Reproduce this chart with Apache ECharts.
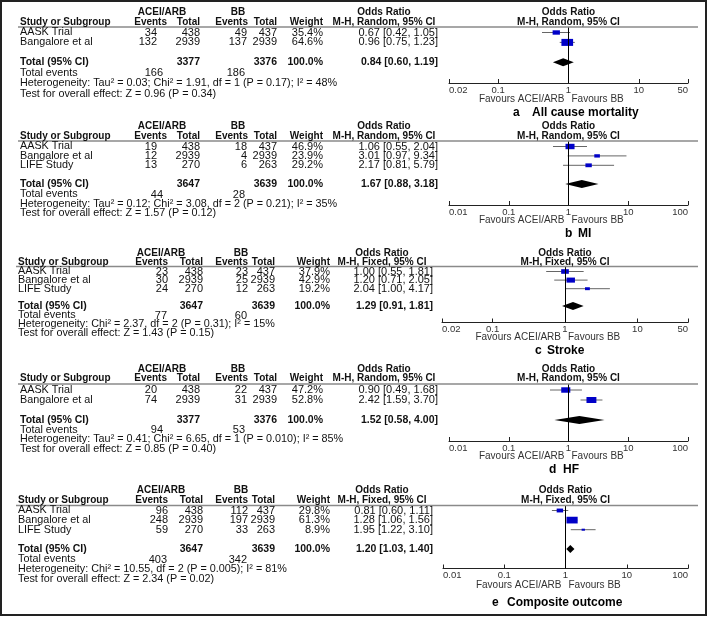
<!DOCTYPE html>
<html>
<head>
<meta charset="utf-8">
<script src="https://cdn.jsdelivr.net/npm/echarts@6/dist/echarts.min.js"></script>
<style>
html,body{margin:0;padding:0;background:#fff;}
#main{width:709px;height:618px;}
</style>
</head>
<body>
<div id="main"></div>
<script>
// ---------------- DATA ----------------
const captionLetters = ['a', 'b', 'c', 'd', 'e'];
const captionTitles = ['All cause mortality', 'MI', 'Stroke', 'HF', 'Composite outcome'];
const methods = ['Random', 'Random', 'Fixed', 'Random', 'Fixed'];

const studiesA = ['AASK Trial', 'Bangalore et al'];
const acEventsA = [34, 132];
const acTotalA = [438, 2939];
const bbEventsA = [49, 137];
const bbTotalA = [437, 2939];
const weightA = [35.4, 64.6];
const orA = [0.67, 0.96];
const loA = [0.42, 0.75];
const hiA = [1.05, 1.23];

const studiesB = ['AASK Trial', 'Bangalore et al', 'LIFE Study'];
const acEventsB = [19, 12, 13];
const acTotalB = [438, 2939, 270];
const bbEventsB = [18, 4, 6];
const bbTotalB = [437, 2939, 263];
const weightB = [46.9, 23.9, 29.2];
const orB = [1.06, 3.01, 2.17];
const loB = [0.55, 0.97, 0.81];
const hiB = [2.04, 9.34, 5.79];

const studiesC = ['AASK Trial', 'Bangalore et al', 'LIFE Study'];
const acEventsC = [23, 30, 24];
const acTotalC = [438, 2939, 270];
const bbEventsC = [23, 25, 12];
const bbTotalC = [437, 2939, 263];
const weightC = [37.9, 42.9, 19.2];
const orC = [1.00, 1.20, 2.04];
const loC = [0.55, 0.71, 1.00];
const hiC = [1.81, 2.05, 4.17];

const studiesD = ['AASK Trial', 'Bangalore et al'];
const acEventsD = [20, 74];
const acTotalD = [438, 2939];
const bbEventsD = [22, 31];
const bbTotalD = [437, 2939];
const weightD = [47.2, 52.8];
const orD = [0.90, 2.42];
const loD = [0.49, 1.59];
const hiD = [1.68, 3.70];

const studiesE = ['AASK Trial', 'Bangalore et al', 'LIFE Study'];
const acEventsE = [96, 248, 59];
const acTotalE = [438, 2939, 270];
const bbEventsE = [112, 197, 33];
const bbTotalE = [437, 2939, 263];
const weightE = [29.8, 61.3, 8.9];
const orE = [0.81, 1.28, 1.95];
const loE = [0.60, 1.06, 1.22];
const hiE = [1.11, 1.56, 3.10];

const pooledOR = [0.84, 1.67, 1.29, 1.52, 1.20];
const pooledLo = [0.60, 0.88, 0.91, 0.58, 1.03];
const pooledHi = [1.19, 3.18, 1.81, 4.00, 1.40];
const totalAc = [3377, 3647, 3647, 3377, 3647];
const totalBb = [3376, 3639, 3639, 3376, 3639];
const totalEventsAc = [166, 44, 77, 94, 403];
const totalEventsBb = [186, 28, 60, 53, 342];
const heterogeneity = [
  'Heterogeneity: Tau² = 0.03; Chi² = 1.91, df = 1 (P = 0.17); I² = 48%',
  'Heterogeneity: Tau² = 0.12; Chi² = 3.08, df = 2 (P = 0.21); I² = 35%',
  'Heterogeneity: Chi² = 2.37, df = 2 (P = 0.31); I² = 15%',
  'Heterogeneity: Tau² = 0.41; Chi² = 6.65, df = 1 (P = 0.010); I² = 85%',
  'Heterogeneity: Chi² = 10.55, df = 2 (P = 0.005); I² = 81%'
];
const overallEffect = [
  'Test for overall effect: Z = 0.96 (P = 0.34)',
  'Test for overall effect: Z = 1.57 (P = 0.12)',
  'Test for overall effect: Z = 1.43 (P = 0.15)',
  'Test for overall effect: Z = 0.85 (P = 0.40)',
  'Test for overall effect: Z = 2.34 (P = 0.02)'
];
const ticks50 = [0.02, 0.1, 1, 10, 50];
const ticks100 = [0.01, 0.1, 1, 10, 100];
const panelTicks = [ticks50, ticks100, ticks50, ticks100, ticks100];

const panelData = [
  [studiesA, acEventsA, acTotalA, bbEventsA, bbTotalA, weightA, orA, loA, hiA],
  [studiesB, acEventsB, acTotalB, bbEventsB, bbTotalB, weightB, orB, loB, hiB],
  [studiesC, acEventsC, acTotalC, bbEventsC, bbTotalC, weightC, orC, loC, hiC],
  [studiesD, acEventsD, acTotalD, bbEventsD, bbTotalD, weightD, orD, loD, hiD],
  [studiesE, acEventsE, acTotalE, bbEventsE, bbTotalE, weightE, orE, loE, hiE]
];

// ---------------- LAYOUT ----------------
const FONT = "'Liberation Sans', Arial, Helvetica, sans-serif";
const cols = {
  R: {name: 20, ev1: 157, tot1: 200, ev2: 247, tot2: 277, wt: 323, or: 438,
      hEv1: 167, hTot1: 200, hEv2: 248, hTot2: 277, hWt: 323, grp1: 162, grp2: 238, orHdr: 384, tev1: 163, tev2: 245},
  F: {name: 18, ev1: 168, tot1: 203, ev2: 248, tot2: 275, wt: 330, or: 433,
      hEv1: 168, hTot1: 203, hEv2: 248, hTot2: 275, hWt: 330, grp1: 161, grp2: 241, orHdr: 382, tev1: 167, tev2: 247}
};
const L = [
  {tmpl: 'R', top: 27, axis: 83, r0: 32.5, s: 9.9, hdr1: 12, hdr2: 22, totEv: 73, het: 83.5, test: 94, fav: 99, cap: 113, capL: 513, capT: 532, left: 449, right: 688},
  {tmpl: 'R', top: 141, axis: 205, r0: 146.5, s: 9.4, hdr1: 126, hdr2: 136, totEv: 194.5, het: 204, test: 213.5, fav: 220, cap: 234, capL: 565, capT: 578, left: 449, right: 688},
  {tmpl: 'F', top: 266.5, axis: 322.5, r0: 271.5, s: 8.6, hdr1: 253, hdr2: 262.5, totEv: 315.5, het: 324.5, test: 333.5, fav: 337, cap: 350.5, capL: 535, capT: 547, left: 442, right: 688},
  {tmpl: 'R', top: 384, axis: 441, r0: 390, s: 10, hdr1: 369, hdr2: 378.5, totEv: 430, het: 439.5, test: 449, fav: 456.5, cap: 470, capL: 549, capT: 563, left: 449, right: 688},
  {tmpl: 'F', top: 505.5, axis: 568.5, r0: 510.5, s: 9.6, hdr1: 490.5, hdr2: 500.5, totEv: 559.5, het: 569.5, test: 579, fav: 585.5, cap: 603, capL: 492, capT: 507, left: 443, right: 688}
];

// ---------------- OPTION ----------------
const grids = [], xAxes = [], yAxes = [], series = [];
L.forEach((l, k) => {
  const n = panelData[k][0].length;
  grids.push({left: l.left, width: l.right - l.left, top: l.top, height: l.axis - l.top, containLabel: false});
  const t = panelTicks[k];
  xAxes.push({
    type: 'log', logBase: 10, gridIndex: k, min: t[0], max: t[t.length - 1], position: 'bottom',
    axisLine: {show: true, onZero: false, lineStyle: {color: '#222', width: 1}},
    axisTick: {show: true, inside: true, length: 4, customValues: t, lineStyle: {color: '#222', width: 1}},
    axisLabel: {show: true, customValues: t, margin: 2, fontSize: 9.5, fontFamily: FONT, color: '#333',
      showMinLabel: true, showMaxLabel: true, alignMinLabel: 'left', alignMaxLabel: 'right',
      formatter: v => String(+Number(v).toPrecision(6))},
    splitLine: {show: false}, minorTick: {show: false}
  });
  yAxes.push({type: 'value', gridIndex: k, inverse: true, show: false,
    min: (l.top - l.r0) / l.s, max: (l.axis - l.r0) / l.s, splitLine: {show: false},
    axisLine: {onZero: false}});

  const [names, ae, at, be, bt, wt, or, lo, hi] = panelData[k];
  const studyRows = names.map((nm, i) => [or[i], lo[i], hi[i], i, wt[i]]);
  series.push({
    type: 'custom', xAxisIndex: k, yAxisIndex: k, silent: true, animation: false,
    data: studyRows,
    encode: {x: [0, 1, 2], y: 3},
    renderItem: (params, api) => {
      const y = api.value(3);
      const pLo = api.coord([api.value(1), y]);
      const pHi = api.coord([api.value(2), y]);
      const pC = api.coord([api.value(0), y]);
      const w = 2 + 0.15 * api.value(4);
      const h = Math.max(1.6, w * 0.6);
      return {type: 'group', children: [
        {type: 'line', shape: {x1: pLo[0], y1: pC[1], x2: pHi[0], y2: pC[1]}, style: {stroke: '#666', lineWidth: 1}},
        {type: 'rect', shape: {x: pC[0] - w / 2, y: pC[1] - h / 2, width: w, height: h}, style: {fill: '#0000c8'}}
      ]};
    },
    markLine: {
      silent: true, symbol: ['none', 'none'], animation: false,
      label: {show: false},
      lineStyle: {color: '#000', width: 1, type: 'solid'},
      data: [{xAxis: 1}]
    },
    z: 3
  });
  series.push({
    type: 'custom', xAxisIndex: k, yAxisIndex: k, silent: true, animation: false,
    data: [[pooledOR[k], pooledLo[k], pooledHi[k], n + 1]],
    encode: {x: [0, 1, 2], y: 3},
    renderItem: (params, api) => {
      const y = api.value(3);
      const pLo = api.coord([api.value(1), y]);
      const pHi = api.coord([api.value(2), y]);
      const pC = api.coord([api.value(0), y]);
      const h = 8;
      return {type: 'polygon', shape: {points: [[pLo[0], pC[1]], [pC[0], pC[1] - h / 2], [pHi[0], pC[1]], [pC[0], pC[1] + h / 2]]},
        style: {fill: '#000'}};
    },
    z: 4
  });
});

const option = {
  backgroundColor: '#fff',
  animation: false,
  grid: grids, xAxis: xAxes, yAxis: yAxes, series: series
};

const chart = echarts.init(document.getElementById('main'), null, {renderer: 'canvas'});
chart.setOption(option);

// ---------------- TABLE TEXT ----------------
function txt(x, y, text, o) {
  o = o || {};
  const align = o.align || 'left';
  return {type: 'text', x: x, y: y, silent: true, z: 10,
    style: {text: String(text), fill: o.color || '#111',
      font: (o.bold ? 'bold ' : '') + (o.size || 10.8) + 'px ' + FONT,
      textAlign: align, textVerticalAlign: 'middle', align: align, verticalAlign: 'middle'}};
}
const f2 = v => v.toFixed(2);
const orStr = (o, a, b) => f2(o) + ' [' + f2(a) + ', ' + f2(b) + ']';
const NUM = 11;

const els = [];
els.push({type: 'rect', shape: {x: 1, y: 1, width: 705, height: 614}, style: {fill: 'none', stroke: '#222', lineWidth: 2}, silent: true, z: 20});
L.forEach((l, k) => {
  const c = cols[l.tmpl];
  const [names, ae, at, be, bt, wt, or, lo, hi] = panelData[k];
  const n = names.length;
  const rowY = v => l.r0 + v * l.s;
  const x1 = chart.convertToPixel({xAxisIndex: k}, 1);
  const mh = 'M-H, ' + methods[k] + ', 95% CI';
  els.push({type: 'line', shape: {x1: c.name - 2, y1: l.top, x2: 698, y2: l.top}, style: {stroke: '#8a8a8a', lineWidth: 1.5}, silent: true, z: 5});
  els.push(txt(c.grp1, l.hdr1, 'ACEI/ARB', {bold: true, size: 10, align: 'center'}));
  els.push(txt(c.grp2, l.hdr1, 'BB', {bold: true, size: 10, align: 'center'}));
  els.push(txt(c.orHdr, l.hdr1, 'Odds Ratio', {bold: true, size: 10, align: 'center'}));
  els.push(txt(x1, l.hdr1, 'Odds Ratio', {bold: true, size: 10, align: 'center'}));
  els.push(txt(c.name, l.hdr2, 'Study or Subgroup', {bold: true, size: 10}));
  els.push(txt(c.hEv1, l.hdr2, 'Events', {bold: true, size: 10, align: 'right'}));
  els.push(txt(c.hTot1, l.hdr2, 'Total', {bold: true, size: 10, align: 'right'}));
  els.push(txt(c.hEv2, l.hdr2, 'Events', {bold: true, size: 10, align: 'right'}));
  els.push(txt(c.hTot2, l.hdr2, 'Total', {bold: true, size: 10, align: 'right'}));
  els.push(txt(c.hWt, l.hdr2, 'Weight', {bold: true, size: 10, align: 'right'}));
  els.push(txt(c.orHdr, l.hdr2, mh, {bold: true, size: 10, align: 'center'}));
  els.push(txt(x1, l.hdr2, mh, {bold: true, size: 10, align: 'center'}));
  names.forEach((nm, i) => {
    const y = rowY(i);
    els.push(txt(c.name, y, nm));
    els.push(txt(c.ev1, y, ae[i], {align: 'right', size: NUM}));
    els.push(txt(c.tot1, y, at[i], {align: 'right', size: NUM}));
    els.push(txt(c.ev2, y, be[i], {align: 'right', size: NUM}));
    els.push(txt(c.tot2, y, bt[i], {align: 'right', size: NUM}));
    els.push(txt(c.wt, y, wt[i].toFixed(1) + '%', {align: 'right', size: NUM}));
    els.push(txt(c.or, y, orStr(or[i], lo[i], hi[i]), {align: 'right', size: NUM}));
  });
  const yt = rowY(n + 1);
  els.push(txt(c.name, yt, 'Total (95% CI)', {bold: true, size: 10.5}));
  els.push(txt(c.tot1, yt, totalAc[k], {bold: true, size: 10.5, align: 'right'}));
  els.push(txt(c.tot2, yt, totalBb[k], {bold: true, size: 10.5, align: 'right'}));
  els.push(txt(c.wt, yt, '100.0%', {bold: true, size: 10.5, align: 'right'}));
  els.push(txt(c.or, yt, orStr(pooledOR[k], pooledLo[k], pooledHi[k]), {bold: true, size: 10.5, align: 'right'}));
  els.push(txt(c.name, l.totEv, 'Total events'));
  els.push(txt(c.tev1, l.totEv, totalEventsAc[k], {align: 'right', size: NUM}));
  els.push(txt(c.tev2, l.totEv, totalEventsBb[k], {align: 'right', size: NUM}));
  els.push(txt(c.name, l.het, heterogeneity[k]));
  els.push(txt(c.name, l.test, overallEffect[k]));
  els.push(txt(x1 - 4, l.fav, 'Favours ACEI/ARB', {size: 10, color: '#333', align: 'right'}));
  els.push(txt(x1 + 3, l.fav, 'Favours BB', {size: 10, color: '#333'}));
  els.push(txt(l.capL, l.cap, captionLetters[k], {bold: true, size: 12, color: '#000'}));
  els.push(txt(l.capT, l.cap, captionTitles[k], {bold: true, size: 12, color: '#000'}));
});
chart.setOption({graphic: {elements: els}});
</script>
</body>
</html>
